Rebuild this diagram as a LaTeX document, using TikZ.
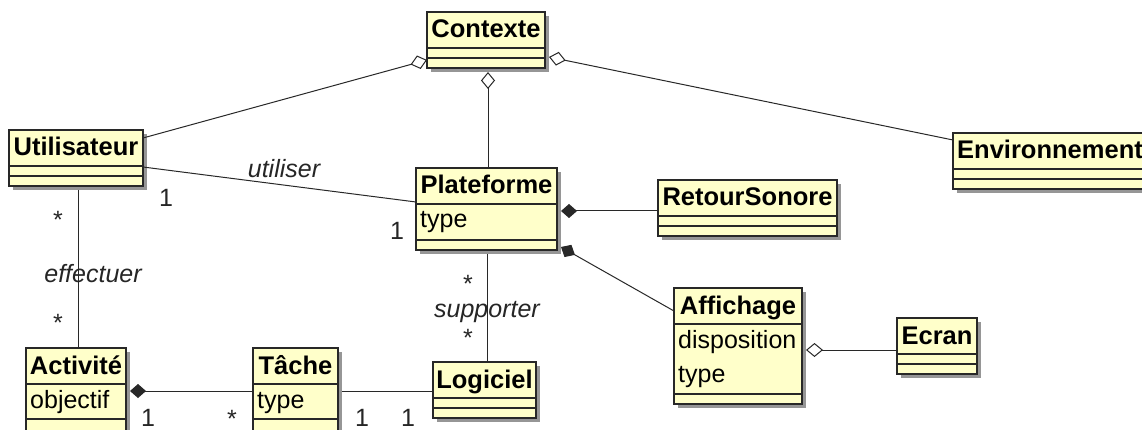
\documentclass[tikz,border=0pt]{standalone}
\usepackage{fontspec}
\setmainfont{Liberation Sans}
\usetikzlibrary{arrows.meta,calc,shadows}
\definecolor{classfill}{RGB}{255,255,202}
\definecolor{boxline}{RGB}{40,40,40}
\definecolor{shadowc}{RGB}{150,150,150}
\newcommand\umlclassbox[7]{%
  \node[cls, minimum width=#4pt, minimum height=#5pt] (#1) at (#2,#3) {};
  \draw[sepline] ($(#1.north west)+(0,36)$) -- ($(#1.north east)+(0,36)$);
  \draw[sepline] ($(#1.north west)+(0,#7)$) -- ($(#1.north east)+(0,#7)$);
  \node[ttl] (#1-t) at ($(#1.north)+(0,26)$) {#6};
}
\begin{document}
\begin{tikzpicture}[x=1pt,y=-1pt,
  cls/.style={draw=boxline, fill=classfill, line width=1.3pt, anchor=north west,
    inner sep=0pt, outer sep=0pt,
    drop shadow={shadow xshift=4pt, shadow yshift=-4pt, fill=shadowc, opacity=1}},
  sepline/.style={draw=boxline, line width=1.3pt},
  ttl/.style={font=\fontsize{25.5}{28}\selectfont\bfseries, anchor=base, inner sep=0pt},
  attr/.style={font=\fontsize{25}{28}\selectfont, anchor=base west, inner sep=0pt},
  lbl/.style={font=\fontsize{25}{28}\selectfont, anchor=base, inner sep=0pt, text=black!85},
  rolelbl/.style={font=\fontsize{25}{28}\selectfont\itshape, anchor=base, inner sep=0pt, text=black!85},
  conn/.style={draw=boxline, line width=1pt},
  agg/.style={conn, {Diamond[length=17pt,width=14pt,fill=white,line width=1pt]}-},
  comp/.style={conn, {Diamond[length=16pt,width=14pt]}-},
]
\useasboundingbox[fill=white] (0,0) rectangle (1142,430);

% classes
\umlclassbox{ctx}{427}{12}{118}{56}{Contexte}{46}
\umlclassbox{uti}{9}{130}{134}{56}{Utilisateur}{46}
\umlclassbox{env}{953}{133}{194}{56}{Environnement}{46}
\umlclassbox{pla}{416}{168}{141}{82}{Plateforme}{72}
\umlclassbox{ret}{658}{180}{179}{56}{RetourSonore}{46}
\umlclassbox{aff}{674}{288}{128}{116}{Affichage}{106}
\umlclassbox{ecr}{897}{318}{80}{56}{Ecran}{46}
\umlclassbox{act}{26}{348}{100}{84}{Activité}{71}
\umlclassbox{tac}{253}{348}{85}{84}{Tâche}{71}
\umlclassbox{log}{433}{362}{103}{56}{Logiciel}{46}

% attributes
\node[attr] (pla-a1) at ($(pla.north west)+(4,60)$) {type};
\node[attr] (aff-a1) at ($(aff.north west)+(4,60)$) {disposition};
\node[attr] (aff-a2) at ($(aff.north west)+(4,94)$) {type};
\node[attr] (act-a1) at ($(act.north west)+(4,60)$) {objectif};
\node[attr] (tac-a1) at ($(tac.north west)+(4,60)$) {type};

% connectors
\draw[agg] ($(ctx.north west)+(0,48)$) -- ($(uti.north east)+(0,8)$);
\draw[agg] ($(ctx.south)+(2,4)$) -- ($(pla.north)+(1.5,0)$);
\draw[agg] ($(ctx.north east)+(4,45)$) -- ($(env.north west)+(0,7)$);
\draw[conn] ($(uti.north east)+(0,37)$) -- ($(pla.north west)+(0,34)$);
\draw[conn] ($(uti.south west)+(69,4)$) -- ($(act.north west)+(52,0)$);
\draw[conn] ($(pla.south west)+(71,4)$) -- ($(log.north west)+(54,0)$);
\draw[comp] ($(pla.north east)+(4,43)$) -- ($(ret.north west)+(0,31)$);
\draw[comp] ($(pla.south east)+(4,-3)$) -- ($(aff.north west)+(0,23)$);
\draw[comp] ($(act.north west)+(104,43)$) -- ($(tac.north west)+(0,43)$);
\draw[conn] ($(tac.north east)+(4,43)$) -- ($(log.north west)+(0,29)$);
\draw[agg] ($(aff.north east)+(4,62)$) -- ($(ecr.north west)+(0,32)$);

% labels
\node[rolelbl] (l-util) at (284,178) {utiliser};
\node[lbl] (l-u1) at (166,207) {1};
\node[lbl] (l-p1) at (397,240) {1};
\node[lbl] (l-e1) at (58,229) {*};
\node[rolelbl] (l-eff) at (93,282) {effectuer};
\node[lbl] (l-e2) at (58,331) {*};
\node[lbl] (l-s1) at (468,292) {*};
\node[rolelbl] (l-sup) at (487,317) {supporter};
\node[lbl] (l-s2) at (468,346) {*};
\node[lbl] (l-a1) at (148,426) {1};
\node[lbl] (l-t1) at (232,427) {*};
\node[lbl] (l-t2) at (362,426) {1};
\node[lbl] (l-g1) at (408,426) {1};
\end{tikzpicture}
\end{document}
